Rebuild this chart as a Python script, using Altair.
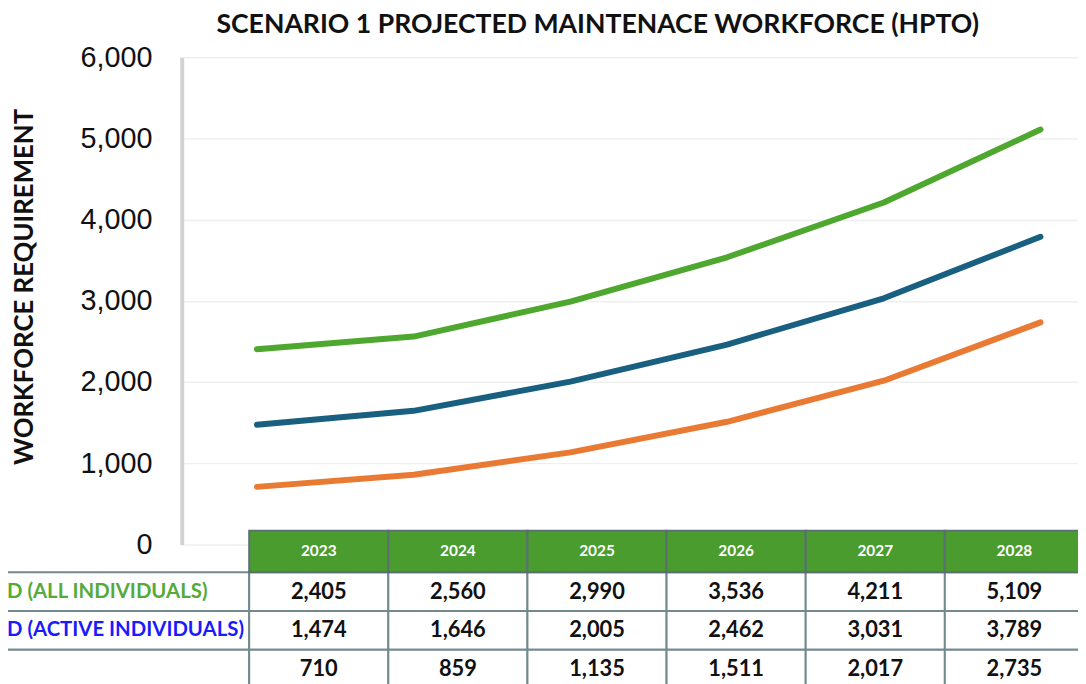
import altair as alt
import pandas as pd

# ---- data ----
years = ["2023", "2024", "2025", "2026", "2027", "2028"]
all_individuals = [2405, 2560, 2990, 3536, 4211, 5109]
active_individuals = [1474, 1646, 2005, 2462, 3031, 3789]
third_series = [710, 859, 1135, 1511, 2017, 2735]
row_keys = ["R1", "R2", "R3"]
row_labels = ["D (ALL INDIVIDUALS)", "D (ACTIVE INDIVIDUALS)", ""]
y_ticks = [0, 1000, 2000, 3000, 4000, 5000, 6000]
chart_title = "SCENARIO 1 PROJECTED MAINTENACE WORKFORCE (HPTO)"
axis_title = "WORKFORCE REQUIREMENT"

# ---- styles ----
line_colors = ["#4ea72e", "#185f80", "#e97a33"]
label_colors = ["#55aa3a", "#1a1aff", "#000000"]
header_green = "#4a9c2f"
grid_border = "#72898d"

series_values = [all_individuals, active_individuals, third_series]
long_rows = []
for key, label, vals in zip(row_keys, row_labels, series_values):
    for yr, v in zip(years, vals):
        long_rows.append({"year": yr, "row": key, "label": label, "value": v})
long_df = pd.DataFrame(long_rows)
header_df = pd.DataFrame({"year": years, "row": ["H"] * len(years)})
label_df = pd.DataFrame({"row": row_keys, "label": row_labels})

col_scale = alt.Scale(type="band", domain=years, range=[68, 909], paddingInner=0, paddingOuter=0)
head_scale = alt.Scale(type="band", domain=["H"], range=[477, 519], paddingInner=0, paddingOuter=0)
row_scale = alt.Scale(type="band", domain=row_keys, range=[519, 636], paddingInner=0, paddingOuter=0)

lines = alt.Chart(long_df).mark_line(strokeWidth=6, strokeCap="round", strokeJoin="round").encode(
    x=alt.X("year:O", scale=alt.Scale(type="point", domain=years, range=[0, 941], padding=0.48), axis=None),
    y=alt.Y(
        "value:Q",
        scale=alt.Scale(domain=[0, 6000], range=[491, 0], nice=False),
        axis=alt.Axis(
            values=y_ticks, format=",d", grid=True, gridColor="#efefef", gridWidth=1.5,
            ticks=False, domainColor="#d2d2d2", domainWidth=4,
            labelFont="Liberation Sans", labelFontSize=29, labelColor="#111111", labelPadding=30,
            title=axis_title, titleFont="Lato", titleFontSize=26, titleFontWeight="bold",
            titleColor="#111111", titleX=-150, titleY=231, titleBaseline="alphabetic",
            titleAngle=270, titleAlign="center",
        ),
    ),
    color=alt.Color("row:N", scale=alt.Scale(domain=row_keys, range=line_colors), legend=None),
)

header_rect = alt.Chart(header_df).mark_rect(fill=header_green, stroke="#5b6f73", strokeWidth=2).encode(
    x=alt.X("year:O", scale=col_scale, axis=None),
    y=alt.Y("row:O", scale=head_scale, axis=None),
)
header_text = alt.Chart(header_df).mark_text(
    font="Lato", fontSize=15.5, fontWeight="bold", color="white", baseline="middle"
).encode(
    x=alt.X("year:O", scale=col_scale, axis=None),
    y=alt.Y("row:O", scale=head_scale, axis=None),
    text="year:N",
)
label_rect = alt.Chart(label_df).mark_rect(fill="white", stroke=grid_border, strokeWidth=2).encode(
    x=alt.value(-190), x2=alt.value(68),
    y=alt.Y("row:O", scale=row_scale, axis=None),
)
body_rect = alt.Chart(long_df).mark_rect(fill="white", stroke=grid_border, strokeWidth=2).encode(
    x=alt.X("year:O", scale=col_scale, axis=None),
    y=alt.Y("row:O", scale=row_scale, axis=None),
)
body_text = alt.Chart(long_df).mark_text(
    font="Lato", fontSize=22, fontWeight="bold", color="#111111", baseline="middle"
).encode(
    x=alt.X("year:O", scale=col_scale, axis=None),
    y=alt.Y("row:O", scale=row_scale, axis=None),
    text=alt.Text("value:Q", format=","),
)
label_text = alt.Chart(label_df).mark_text(
    font="Lato", fontSize=20.5, fontWeight="bold", align="left", baseline="middle"
).encode(
    x=alt.value(-176),
    y=alt.Y("row:O", scale=row_scale, axis=None),
    text="label:N",
    color=alt.Color("row:N", scale=alt.Scale(domain=row_keys, range=label_colors), legend=None),
)

chart = alt.layer(
    lines, label_rect, body_rect, header_rect, header_text, body_text, label_text
).resolve_scale(
    x="independent", y="independent", color="independent"
).properties(
    width=903, height=629,
    autosize=alt.AutoSizeParams(type="none"),
    padding={"left": 175, "top": 47, "right": 0, "bottom": 0},
    title=alt.TitleParams(
        text=chart_title, font="Lato", fontSize=26.8, fontWeight="bold", color="#111111",
        anchor="start", frame="group", dx=35, dy=21, offset=5, baseline="alphabetic",
    ),
).configure_view(stroke=None)

chart.save("out.html", embed_options={"renderer": "svg", "actions": False})
